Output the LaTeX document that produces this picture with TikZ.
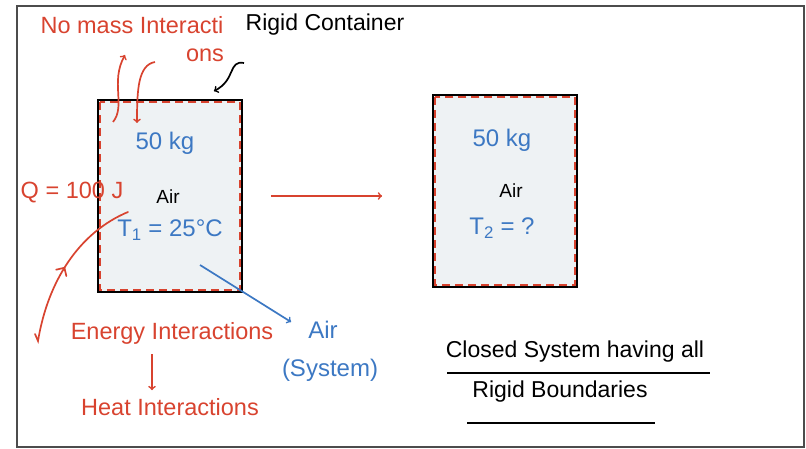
\documentclass[tikz,border=0pt]{standalone}
\usepackage{fontspec}
\setmainfont{Liberation Sans}
\usetikzlibrary{decorations.markings}

\definecolor{penRed}{HTML}{D8432F}
\definecolor{penBlue}{HTML}{3C78C3}
\definecolor{airFill}{HTML}{EEF2F4}

\begin{document}
\begin{tikzpicture}
[x=1pt,y=-1pt,
  boxDecorate/.style={shape=rectangle,draw,line width=1.8pt,fill=airFill,minimum width=144pt,minimum height=192pt,inner sep=0pt},%
  boundDecorate/.style={draw=penRed,line width=1.8pt,dash pattern=on 8pt off 5pt},%
  redNote/.style={text=penRed,font=\fontsize{23.5}{26}\selectfont,inner sep=0pt},%
  blueNote/.style={text=penBlue,font=\fontsize{24}{26}\selectfont,inner sep=0pt},%
  blackNote/.style={text=black,font=\fontsize{23}{25}\selectfont,inner sep=0pt},%
  airText/.style={text=black,font=\fontsize{19}{21}\selectfont,inner sep=0pt},%
  penArrow/.style={->,draw=penRed,line width=1.7pt},%
  inkArrow/.style={->,draw=black,line width=1.7pt},%
  sysArrow/.style={->,draw=penBlue,line width=1.7pt},%
  lineDecorate/.style={-,draw=black,line width=1.4pt}]
\useasboundingbox (0,0) rectangle (806,449);
\draw[line width=1.2pt,draw=gray!60!black] (17,6) rectangle (804,447);
%% containers
\foreach \nodename/\x/\y in {boxL/170/196, boxR/505/191}
{
  \node (\nodename) at (\x,\y) [boxDecorate] {};
  \draw[boundDecorate] ([shift={(3,3)}]\nodename.north west) rectangle ([shift={(-3,-3)}]\nodename.south east);
}
%% texts in the containers
\foreach \nodename/\x/\y/\txt in {massL/165/143/50 kg, massR/502/140/50 kg, tempL/170/230/T\textsubscript{1} = 25°C, tempR/502/228/T\textsubscript{2} = ?}
{
  \node (\nodename) at (\x,\y) [blueNote] {\txt};
}
\node (airL) at (168,197) [airText] {Air};
\node (airR) at (511,191) [airText] {Air};
%% notes
\node (noMass) at (132,25) [redNote] {No mass Interacti};
\node (noMassB) at (205,55) [redNote] {ons};
\node (rigid) at (325,25) [blackNote] {Rigid Container};
\node (qLabel) at (72,193) [redNote] {Q = 100 J};
\node (energy) at (172,333) [redNote] {Energy Interactions};
\node (heat) at (170,407) [redNote] {Heat Interactions};
\node (airSys) at (323,330) [blueNote] {Air};
\node (sysWord) at (330,370) [blueNote] {(System)};
\node (closedLine) at (575,352) [blackNote] {Closed System having all};
\node (rigidLine) at (560,392) [blackNote] {Rigid Boundaries};
%% free ends
\coordinate (outTail) at (113,122);
\coordinate (outTip) at (125,55);
\coordinate (inTail) at (155,62);
\coordinate (inTip) at (137,123);
\coordinate (rigidTail) at (244,63);
\coordinate (heatTail) at (38,341);
\coordinate (heatTip) at (128,212);
\coordinate (sysTail) at (200,265);
%% connectors
\draw[penArrow] (boxL.east) -- (boxR.west |- boxL.east) [shorten <=28pt,shorten >=50pt];
\draw[penArrow] (outTail) .. controls (126,106) and (110,82) .. (outTip);
\draw[penArrow] (inTail) .. controls (138,65) and (137,90) .. (inTip);
\draw[inkArrow] (rigidTail) .. controls (228,60) and (236,80) .. ([shift={(-29,-8)}]boxL.north east);
\draw[draw=penRed,line width=1.7pt,line cap=round,decoration={markings,mark=at position 0.5 with {\draw[line width=1.7pt] (-6pt,-6pt) -- (0pt,0pt) -- (-6pt,6pt);}},postaction={decorate}]
  (35,334) -- (heatTail) .. controls (48,280) and (80,232) .. (heatTip);
\draw[sysArrow] (sysTail) -- ([shift={(-17,-8)}]airSys.west);
\draw[penArrow] ([xshift=-20pt]energy.south) -- ([xshift=-18pt]heat.north) [shorten <=10pt,shorten >=8pt];
%% underlines
\draw[lineDecorate] (447,373) -- (710,373);
\draw[lineDecorate] (467,423) -- (655,423);
\end{tikzpicture}
\end{document}
